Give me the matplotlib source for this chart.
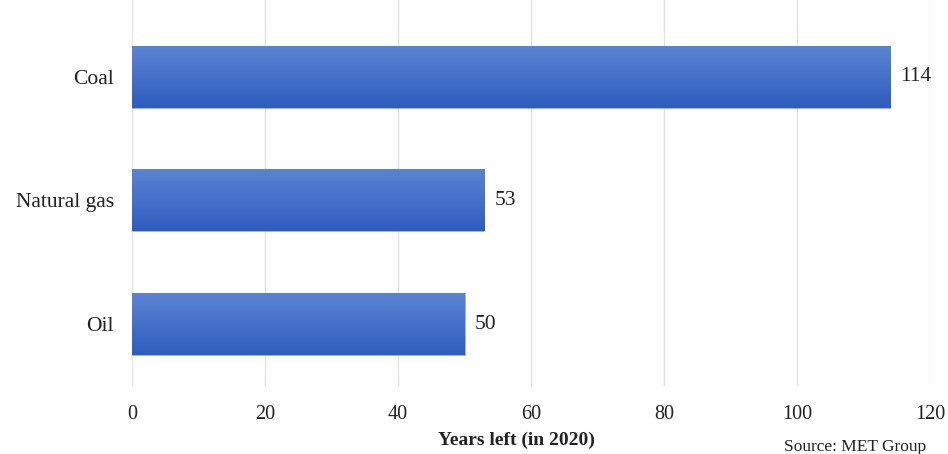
import numpy as np
import matplotlib.pyplot as plt
from matplotlib.colors import LinearSegmentedColormap

fuels = ["Oil", "Natural gas", "Coal"]
years_left = [50, 53, 114]
x_ticks = [0, 20, 40, 60, 80, 100, 120]

plt.rcParams['font.family'] = ['Liberation Serif', 'DejaVu Serif']

fig = plt.figure(figsize=(9.48, 4.54), dpi=100)
ax = fig.add_axes([132 / 948, 1 - 386 / 454, 798 / 948, 386 / 454])

pos = np.arange(len(fuels))
bars = ax.barh(pos, years_left, height=0.5, color="#3f6cc8", zorder=2)

# vertical gradient, lighter on top
grad = LinearSegmentedColormap.from_list("bar_grad", ["#2f5dbd", "#5a84d2"])
g = np.linspace(0, 1, 64).reshape(-1, 1)
for b in bars:
    x0, y0 = b.get_x(), b.get_y()
    im = ax.imshow(g, cmap=grad, aspect="auto", origin="lower",
                   extent=(x0, x0 + b.get_width(), y0, y0 + b.get_height()), zorder=3)
    im.set_clip_path(b)
    b.set_edgecolor("#9db3e0")
    b.set_linewidth(0.6)

for b, v in zip(bars, years_left):
    ax.text(b.get_width() + 1.5, b.get_y() + b.get_height() / 2, str(v),
            va="center", ha="left", fontsize=15.5, color="#222222")

ax.set_xlim(0, 120)
ax.set_ylim(-0.5, 2.62)
ax.set_xticks(x_ticks)
ax.set_yticks(pos)
ax.set_yticklabels(fuels)
ax.tick_params(axis="x", length=0, labelsize=14.5, colors="#222222", pad=14)
ax.tick_params(axis="y", length=0, labelsize=15.5, colors="#222222", pad=13)
ax.grid(axis="x", color="#e2e2e2", linewidth=1.0, zorder=0)
ax.set_axisbelow(True)
for s in ax.spines.values():
    s.set_visible(False)

fig.text(516 / 948, 1 - 440 / 454, "Years left (in 2020)", ha="center", va="center",
         fontsize=14, fontweight="bold", color="#222222")
fig.text(926 / 948, 1 - 447 / 454, "Source: MET Group", ha="right", va="center",
         fontsize=12.5, color="#222222")

fig.savefig("out.png", dpi=100)
